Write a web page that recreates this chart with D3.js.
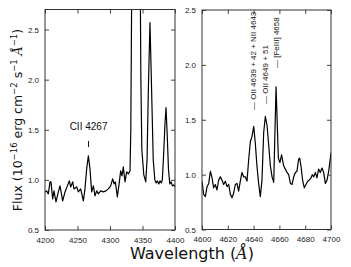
<!DOCTYPE html>
<html>
<meta charset="utf-8">
<style>
body { margin: 0; background: #fff; }
svg { display: block; }
.tick text { font-family: "Liberation Sans", Arial, sans-serif; font-size: 8px; fill: #222; }
.tick line { stroke: #444; }
.frame { fill: none; stroke: #333; stroke-width: 1; }
.spec { fill: none; stroke: #000; stroke-width: 1.2; stroke-linejoin: round; }
.lbl { font-family: "DejaVu Sans", sans-serif; fill: #111; }
.ann { font-family: "Liberation Sans", Arial, sans-serif; fill: #111; }
</style>
<body>
<svg width="351" height="267"></svg>
<script src="https://d3js.org/d3.v7.min.js"></script>
<script>
// left panel spectrum (CII 4267, Hgamma, [OIII] 4363, HeI 4388)
var leftWave = [4200.0,4202.6,4205.1,4207.7,4209.2,4211.8,4213.8,4216.9,4220.5,4223.1,4227.2,4230.8,4234.4,4237.4,4239.5,4242.6,4244.6,4248.7,4251.3,4254.9,4259.0,4261.5,4264.1,4266.7,4269.2,4271.8,4274.4,4276.9,4279.5,4282.1,4285.6,4289.7,4293.8,4297.4,4301.0,4304.1,4306.2,4308.2,4311.3,4314.4,4316.4,4318.5,4320.5,4323.1,4325.6,4328.2,4330.8,4332.0,4334.0,4340.0,4346.0,4347.5,4349.0,4352.0,4355.0,4357.0,4359.0,4361.5,4364.0,4366.5,4369.0,4371.0,4373.0,4375.0,4377.0,4379.0,4380.5,4382.5,4384.5,4386.2,4388.0,4390.0,4392.0,4394.0,4396.0,4398.0,4400.0];
var leftFlux = [0.88,0.89,0.86,0.98,0.98,0.81,0.89,0.78,0.88,0.94,0.79,0.88,0.94,0.99,0.93,0.98,0.91,0.93,0.88,0.91,0.79,0.91,1.11,1.24,1.11,0.88,0.94,0.84,0.89,0.86,0.89,0.88,0.89,0.91,0.94,1.01,0.96,0.98,0.83,0.98,1.09,1.04,1.13,0.98,1.08,1.06,1.09,1.5,3.5,6.0,3.5,2.0,1.3,1.05,0.98,1.2,1.9,2.57,1.9,1.2,1.0,0.97,0.99,0.96,0.99,0.97,1.0,1.25,1.55,1.72,1.45,1.1,0.96,0.98,0.94,0.95,0.93];

// right panel spectrum (OII / NIII blend, [FeIII] 4658)
var rightWave = [4600.0,4601.3,4602.6,4603.9,4605.2,4606.5,4607.8,4609.0,4610.3,4611.6,4612.9,4614.2,4615.5,4616.8,4618.1,4619.4,4620.7,4622.0,4623.3,4624.5,4625.8,4627.1,4628.4,4629.7,4631.0,4632.3,4633.6,4634.9,4636.2,4637.5,4638.8,4640.1,4641.3,4642.6,4643.9,4645.2,4646.5,4647.8,4649.1,4650.4,4651.7,4653.0,4654.3,4655.6,4657.4,4659.2,4660.4,4661.7,4663.3,4664.6,4665.9,4667.2,4668.5,4669.8,4671.1,4672.4,4673.6,4674.9,4675.7,4676.7,4678.0,4679.3,4680.6,4681.9,4683.2,4684.5,4685.5,4686.6,4687.9,4689.1,4690.4,4691.7,4693.0,4694.3,4695.6,4696.9,4698.2,4699.5,4700.0];
var rightFlux = [0.94,0.82,0.80,0.89,0.92,1.03,0.97,0.88,0.91,0.86,0.95,0.98,0.95,0.91,0.94,0.89,0.91,0.82,0.79,0.83,0.91,0.92,0.85,0.94,1.02,0.98,0.98,0.94,1.14,1.30,1.35,1.44,1.29,1.08,0.92,0.80,0.95,1.38,1.53,1.45,1.27,1.08,0.98,0.93,1.80,1.15,1.11,1.18,1.08,1.05,1.02,1.00,0.92,0.91,0.98,1.02,1.03,1.14,1.15,1.08,0.95,0.88,0.91,0.94,0.95,0.97,1.00,0.98,1.02,0.97,1.05,1.02,1.06,1.02,0.92,0.95,1.03,1.15,1.20];

var leftXTicks = [4200, 4250, 4300, 4350, 4400];
var rightXTicks = [4600, 4620, 4640, 4660, 4680, 4700];
var yTicks = [0.5, 1.0, 1.5, 2.0, 2.5];

var leftAnn = [{wave: 4267, text: "CII 4267"}];
var rightAnnWave = [4640, 4649, 4657.5];
var rightAnnText = ["\u2014 OII 4639 + 42 + NII 4643", "\u2014 OII 4649 + 51", "\u2014 [FeIII] 4658"];
var rightAnnBottom = [110, 104, 68];

var svg = d3.select("svg");

function panel(id, box, xDomain, yDomain, xTicks, wave, flux) {
  var x = d3.scaleLinear().domain(xDomain).range([box.left, box.right]);
  var y = d3.scaleLinear().domain(yDomain).range([box.bottom, box.top]);
  var fmt = d3.format(".1f");

  svg.append("clipPath").attr("id", id)
    .append("rect")
      .attr("x", box.left).attr("y", box.top)
      .attr("width", box.right - box.left).attr("height", box.bottom - box.top);

  var line = d3.line()
    .x(function(d, i) { return x(wave[i]); })
    .y(function(d) { return y(d); });

  svg.append("path")
    .datum(flux)
    .attr("class", "spec")
    .attr("clip-path", "url(#" + id + ")")
    .attr("d", line);

  // inward ticks on all four sides
  svg.append("g")
    .attr("transform", "translate(0," + box.bottom + ")")
    .call(d3.axisBottom(x).tickValues(xTicks).tickSize(-4).tickPadding(7).tickFormat(d3.format("d")));
  svg.append("g")
    .attr("transform", "translate(0," + box.top + ")")
    .call(d3.axisTop(x).tickValues(xTicks).tickSize(-4).tickFormat(""));
  svg.append("g")
    .attr("transform", "translate(" + box.left + ",0)")
    .call(d3.axisLeft(y).tickValues(yTicks).tickSize(-4).tickPadding(6).tickFormat(fmt));
  svg.append("g")
    .attr("transform", "translate(" + box.right + ",0)")
    .call(d3.axisRight(y).tickValues(yTicks).tickSize(-4).tickFormat(""));
  svg.selectAll(".domain").remove();

  svg.append("rect")
    .attr("class", "frame")
    .attr("x", box.left).attr("y", box.top)
    .attr("width", box.right - box.left).attr("height", box.bottom - box.top);

  return {x: x, y: y};
}

var L = panel("clipL", {left: 45, right: 175, top: 9.5, bottom: 230}, [4200, 4400], [0.5, 2.7], leftXTicks, leftWave, leftFlux);
var R = panel("clipR", {left: 202, right: 331, top: 10, bottom: 229.5}, [4600, 4700], [0.5, 2.5], rightXTicks, rightWave, rightFlux);

// left annotation
leftAnn.forEach(function(a) {
  svg.append("text").attr("class", "ann")
    .attr("x", L.x(a.wave)).attr("y", 130)
    .attr("text-anchor", "middle")
    .style("font-size", "10px")
    .text(a.text);
  svg.append("line")
    .attr("x1", L.x(a.wave)).attr("x2", L.x(a.wave))
    .attr("y1", 141).attr("y2", 147)
    .attr("stroke", "#111").attr("stroke-width", 1);
});

// right annotations, rotated
rightAnnWave.forEach(function(w, i) {
  var cx = R.x(w), cy = rightAnnBottom[i];
  svg.append("text").attr("class", "ann")
    .attr("transform", "translate(" + cx + "," + cy + ") rotate(-90)")
    .attr("dy", "0.35em")
    .style("font-size", "8px")
    .text(rightAnnText[i]);
});

// axis labels
var xl = svg.append("text").attr("class", "lbl")
  .attr("x", 192).attr("y", 259)
  .attr("text-anchor", "middle")
  .style("font-size", "16px");
xl.append("tspan").text("Wavelength (");
xl.append("tspan").style("font-family", "DejaVu Serif, serif").style("font-style", "italic").text("\u00C5");
xl.append("tspan").text(")");

var yl = svg.append("text").attr("class", "lbl")
  .attr("transform", "translate(22,120) rotate(-90)")
  .attr("text-anchor", "middle")
  .style("font-size", "12.5px");
yl.append("tspan").text("Flux (10");
yl.append("tspan").attr("dy", -5).style("font-size", "8.5px").text("\u221216");
yl.append("tspan").attr("dy", 5).text(" erg cm");
yl.append("tspan").attr("dy", -5).style("font-size", "8.5px").text("\u22122");
yl.append("tspan").attr("dy", 5).text(" s");
yl.append("tspan").attr("dy", -5).style("font-size", "8.5px").text("\u22121");
yl.append("tspan").attr("dy", 5).text(" ");
yl.append("tspan").style("font-family", "DejaVu Serif, serif").style("font-style", "italic").text("\u00C5");
yl.append("tspan").attr("dy", -5).style("font-size", "8.5px").text("\u22121");
yl.append("tspan").attr("dy", 5).text(")");
</script>
</body>
</html>
